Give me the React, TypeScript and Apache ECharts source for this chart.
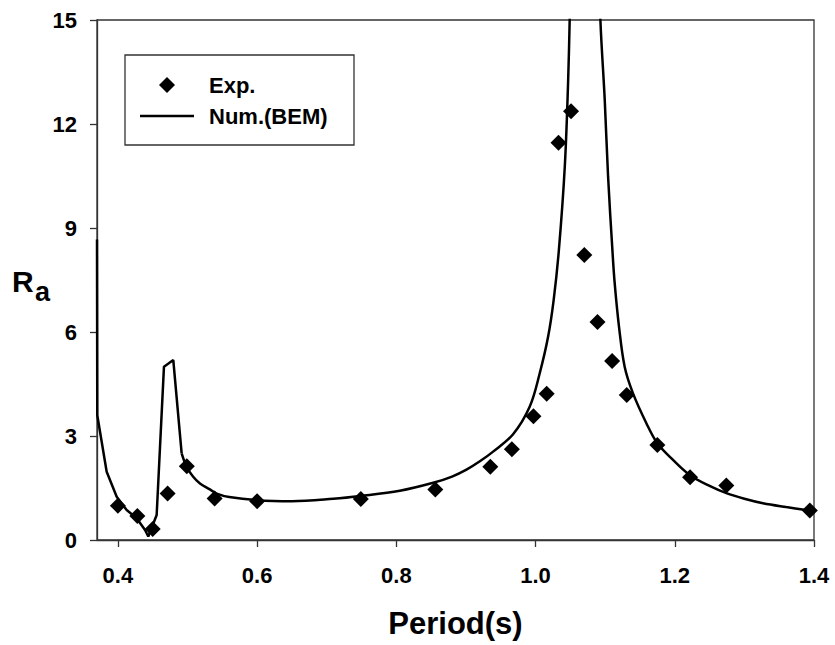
import React, { useEffect, useRef } from "react";
import * as echarts from "echarts";

const expPeriod = [0.400, 0.428, 0.450, 0.4715, 0.499, 0.539, 0.600, 0.749, 0.856, 0.935, 0.966, 0.997, 1.016, 1.033, 1.051, 1.070, 1.089, 1.110, 1.131, 1.175, 1.222, 1.274, 1.394];
const expRa = [0.99, 0.69, 0.32, 1.34, 2.13, 1.20, 1.12, 1.18, 1.46, 2.11, 2.62, 3.57, 4.22, 11.46, 12.37, 8.22, 6.29, 5.16, 4.18, 2.74, 1.81, 1.57, 0.85];

const bemPeriod = [0.370, 0.3704, 0.3839, 0.3983, 0.4126, 0.427, 0.439, 0.4437, 0.4557, 0.4662, 0.4796, 0.4916, 0.4988, 0.5079, 0.5179, 0.5322, 0.5419, 0.560, 0.5993, 0.650, 0.7093, 0.749, 0.805, 0.853, 0.880, 0.9008, 0.920, 0.939, 0.9677, 0.9917, 1.006, 1.018, 1.026, 1.0335, 1.042, 1.0467, 1.049, 1.053, 1.060, 1.070, 1.080, 1.088, 1.0932, 1.0994, 1.1042, 1.1104, 1.1137, 1.1199, 1.128, 1.140, 1.1592, 1.175, 1.1974, 1.2224, 1.250, 1.2741, 1.300, 1.3267, 1.360, 1.3937];
const bemRa = [8.67, 3.60, 1.97, 1.25, 0.865, 0.63, 0.29, 0.10, 0.72, 5.00, 5.19, 2.50, 2.11, 1.83, 1.63, 1.46, 1.34, 1.24, 1.15, 1.12, 1.19, 1.27, 1.42, 1.65, 1.83, 2.03, 2.27, 2.55, 3.05, 3.85, 4.81, 5.86, 6.92, 8.36, 10.77, 13.17, 14.98, 18.5, 24, 28, 24, 18.5, 14.98, 12.69, 10.48, 8.36, 7.40, 6.15, 5.00, 4.23, 3.37, 2.79, 2.31, 1.86, 1.56, 1.35, 1.19, 1.06, 0.95, 0.85];
// index where the sharp-cornered low-period part ends and the smooth resonance curve begins
const bemSplitIndex = 11;

const xTicksMin = 0.37;
const xTicksMax = 1.4;
const yTickMin = 0;
const yTickMax = 15;
const yTickStep = 3;

const FONT = "'Liberation Sans', Arial, sans-serif";

export default function App() {
  const ref = useRef<HTMLDivElement>(null);
  useEffect(() => {
    if (!ref.current) return;
    const chart = echarts.init(ref.current, null, { renderer: "svg" });
    const expData = expPeriod.map((x, i) => [x, expRa[i]]);
    const bemData = bemPeriod.map((x, i) => [x, bemRa[i]]);
    const bemLeft = bemData.slice(0, bemSplitIndex + 1);
    const bemRight = bemData.slice(bemSplitIndex);
    chart.setOption({
      animation: false,
      backgroundColor: "#ffffff",
      textStyle: { fontFamily: FONT },
      grid: {
        left: 97,
        right: 21,
        top: 20,
        bottom: 105,
        show: true,
        borderColor: "#333333",
        borderWidth: 1.3,
        backgroundColor: "transparent",
      },
      xAxis: {
        type: "value",
        min: xTicksMin,
        max: xTicksMax,
        splitNumber: 5,
        name: "Period(s)",
        nameLocation: "middle",
        nameGap: 68,
        nameTextStyle: { fontFamily: FONT, fontWeight: "bold", fontSize: 31, color: "#000" },
        axisLine: { show: true, lineStyle: { color: "#333333", width: 1.3 } },
        axisTick: { show: true, inside: false, length: 7, lineStyle: { color: "#333333", width: 1.3 } },
        axisLabel: {
          showMinLabel: false,
          margin: 24,
          fontFamily: FONT,
          fontWeight: "bold",
          fontSize: 22,
          color: "#000",
          formatter: (v: number) => (Math.abs(v * 5 - Math.round(v * 5)) > 1e-6 ? "" : v.toFixed(1)),
        },
        splitLine: { show: false },
      },
      yAxis: {
        type: "value",
        min: yTickMin,
        max: yTickMax,
        interval: yTickStep,
        axisLine: { show: true, lineStyle: { color: "#333333", width: 1.3 } },
        axisTick: { show: true, inside: false, length: 7, lineStyle: { color: "#333333", width: 1.3 } },
        axisLabel: {
          margin: 20,
          fontFamily: FONT,
          fontWeight: "bold",
          fontSize: 22,
          color: "#000",
        },
        splitLine: { show: false },
      },
      series: [
        {
          name: "Num.(BEM)",
          type: "line",
          data: bemLeft,
          showSymbol: false,
          symbol: "none",
          smooth: false,
          clip: true,
          lineStyle: { color: "#000", width: 2.5 },
          z: 2,
        },
        {
          name: "Num.(BEM)",
          type: "line",
          data: bemRight,
          showSymbol: false,
          symbol: "none",
          smooth: 0.35,
          clip: true,
          lineStyle: { color: "#000", width: 2.5 },
          z: 2,
        },
        {
          name: "Exp.",
          type: "scatter",
          data: expData,
          symbol: "diamond",
          symbolSize: 16,
          itemStyle: { color: "#000", opacity: 1 },
          z: 3,
        },
      ],
      graphic: [
        {
          type: "rect",
          z: 100,
          shape: { x: 125, y: 55, width: 229, height: 90 },
          style: { fill: "#ffffff", stroke: "#333333", lineWidth: 1.3 },
        },
        {
          type: "polygon",
          z: 101,
          shape: { points: [[167, 77], [175, 85], [167, 93], [159, 85]] },
          style: { fill: "#000" },
        },
        {
          type: "text",
          z: 101,
          x: 209,
          y: 85,
          style: { text: "Exp.", fill: "#000", font: `bold 22px ${FONT}`, verticalAlign: "middle", align: "left" },
        },
        {
          type: "line",
          z: 101,
          shape: { x1: 140, y1: 116, x2: 194, y2: 116 },
          style: { stroke: "#000", lineWidth: 2.5 },
        },
        {
          type: "text",
          z: 101,
          x: 209,
          y: 116,
          style: { text: "Num.(BEM)", fill: "#000", font: `bold 22px ${FONT}`, verticalAlign: "middle", align: "left" },
        },
        {
          type: "text",
          z: 101,
          x: 12,
          y: 281,
          style: { text: "R", fill: "#000", font: `bold 30px ${FONT}`, verticalAlign: "middle", align: "left" },
        },
        {
          type: "text",
          z: 101,
          x: 35,
          y: 292,
          style: { text: "a", fill: "#000", font: `bold 27px ${FONT}`, verticalAlign: "middle", align: "left" },
        },
      ],
    });
    return () => chart.dispose();
  }, []);
  return <div ref={ref} style={{ position: "absolute", left: 0, top: 0, width: 835, height: 645 }} />;
}
